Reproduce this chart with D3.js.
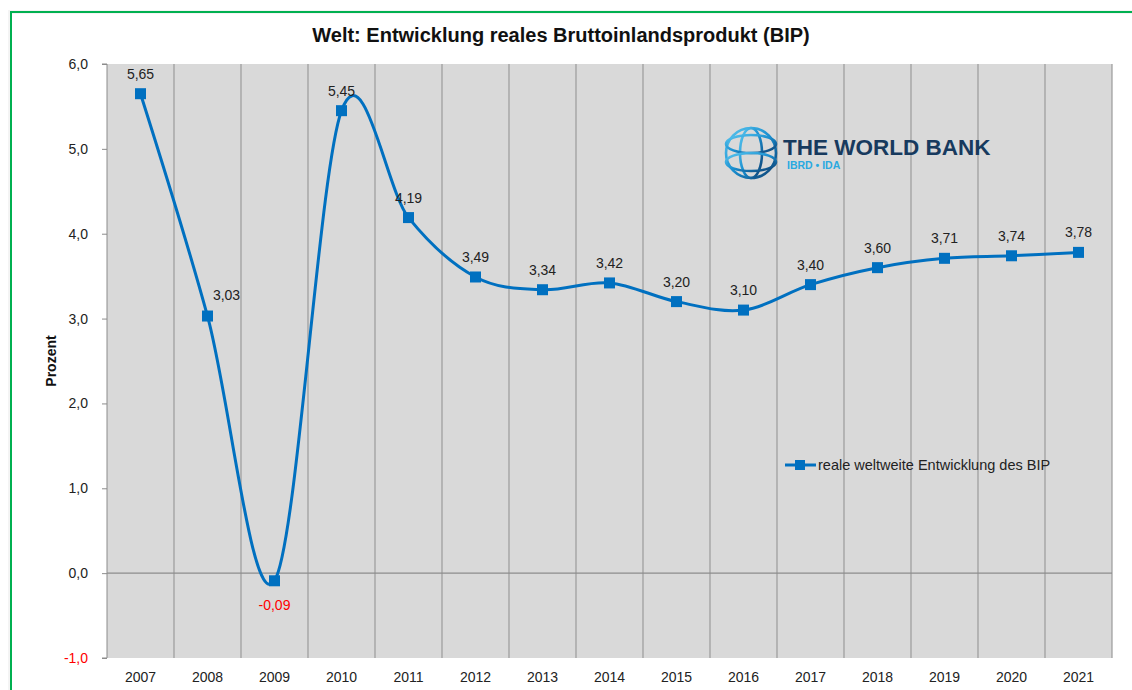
<!DOCTYPE html>
<html><head><meta charset="utf-8">
<script src="https://cdn.jsdelivr.net/npm/d3@7"></script>
<style>body{margin:0;background:#fff}svg{display:block}</style>
</head><body>
<script>
const years = ["2007","2008","2009","2010","2011","2012","2013","2014","2015","2016","2017","2018","2019","2020","2021"];
const growth = [5.65,3.03,-0.09,5.45,4.19,3.49,3.34,3.42,3.20,3.10,3.40,3.60,3.71,3.74,3.78];
const yTicks = [-1,0,1,2,3,4,5,6];
const title = "Welt: Entwicklung reales Bruttoinlandsprodukt (BIP)";
const seriesName = "reale weltweite Entwicklung des BIP";
const yLabel = "Prozent";

const W = 1132, H = 690;
const font = "'Liberation Sans', Arial, sans-serif";
const fs = 14;
const svg = d3.select("body").append("svg").attr("width", W).attr("height", H);

// green frame
svg.append("rect").attr("x",8).attr("y",10).attr("width",W).attr("height",H).attr("fill","#f4f4f4");
svg.append("rect").attr("x",12).attr("y",14).attr("width",W).attr("height",H).attr("fill","#fff");
svg.append("path").attr("d",`M11,${H} V12 H${W}`).attr("fill","none").attr("stroke","#00b050").attr("stroke-width",2);

const L = 107, R = 1112, T = 64, B = 658;
const x = d3.scaleBand().domain(years).range([L,R]);
const y = d3.scaleLinear().domain([-1,6]).range([B,T]);
const cx = d => x(d) + x.bandwidth()/2;

svg.append("rect").attr("x",L).attr("y",T).attr("width",R-L).attr("height",B-T).attr("fill","#d9d9d9");

// vertical gridlines at category boundaries
const bounds = years.map(d => x(d)).concat([R]).slice(1);
svg.append("g").selectAll("line").data(bounds).join("line")
  .attr("x1",d=>d).attr("x2",d=>d).attr("y1",T).attr("y2",B)
  .attr("stroke","#9a9a9a").attr("stroke-width",1.2);

// zero line (category axis)
svg.append("line").attr("x1",L).attr("x2",R).attr("y1",y(0)).attr("y2",y(0))
  .attr("stroke","#8c8c8c").attr("stroke-width",1.2);

// y axis
const yAxis = d3.axisLeft(y).tickValues(yTicks).tickSize(5)
  .tickFormat(d => d3.format(".1f")(d).replace(".",",").replace("−","-"));
const ga = svg.append("g").attr("transform",`translate(${L},0)`).call(yAxis);
ga.select(".domain").attr("stroke","#8c8c8c").attr("d",`M-5,${T}H0V${B}H-5`);
ga.selectAll(".tick line").attr("stroke","#8c8c8c");
ga.selectAll(".tick text").attr("font-family",font).attr("font-size",fs)
  .attr("fill",d => d<0 ? "#ff0000" : "#222").attr("x",-19);

// x labels
svg.append("g").selectAll("text").data(years).join("text")
  .attr("x",d=>cx(d)).attr("y",682).attr("text-anchor","middle")
  .attr("font-family",font).attr("font-size",fs).attr("fill","#222").text(d=>d);

// title
svg.append("text").attr("x",561).attr("y",42).attr("text-anchor","middle")
  .attr("font-family",font).attr("font-weight","bold").attr("font-size",20).attr("fill","#111").text(title);

// y label
svg.append("text").attr("transform","translate(56,361) rotate(-90)").attr("text-anchor","middle")
  .attr("font-family",font).attr("font-weight","bold").attr("font-size",14).attr("fill","#111").text(yLabel);

// logo
const lg = svg.append("g").attr("transform","translate(751,153)");
const defs = svg.append("defs");
const grad = defs.append("linearGradient").attr("id","gl").attr("x1","0").attr("y1","0").attr("x2","1").attr("y2","1");
grad.append("stop").attr("offset","0").attr("stop-color","#5cc8f0");
grad.append("stop").attr("offset","0.5").attr("stop-color","#1a8fd0");
grad.append("stop").attr("offset","1").attr("stop-color","#0d3c6e");
const gs = {fill:"none",stroke:"url(#gl)","stroke-width":2.6};
const addE = (rx,ry,cxx,cyy) => { const e = lg.append("ellipse").attr("cx",cxx||0).attr("cy",cyy||0).attr("rx",rx).attr("ry",ry); Object.entries(gs).forEach(([k,v])=>e.attr(k,v)); };
addE(25,25); addE(11,25); addE(25,9,0,-9); addE(25,9,0,9);
lg.append("line").attr("x1",0).attr("x2",0).attr("y1",-25).attr("y2",25).attr("stroke","url(#gl)").attr("stroke-width",2.6);
lg.append("line").attr("x1",-25).attr("x2",25).attr("y1",0).attr("y2",0).attr("stroke","url(#gl)").attr("stroke-width",2.6);
svg.append("text").attr("x",783).attr("y",155).attr("font-family",font).attr("font-weight","bold")
  .attr("font-size",22.5).attr("fill","#173a5e").text("THE WORLD BANK");
svg.append("text").attr("x",787).attr("y",169).attr("font-family",font).attr("font-weight","bold")
  .attr("font-size",10.5).attr("fill","#2aa9e0").text("IBRD • IDA");

// line
const pts = years.map((d,i) => [cx(d), y(growth[i])]);
svg.append("path").attr("d", d3.line().curve(d3.curveCardinal.tension(0))(pts))
  .attr("fill","none").attr("stroke","#0070c0").attr("stroke-width",3);
svg.append("g").selectAll("rect").data(pts).join("rect")
  .attr("x",d=>d[0]-5.5).attr("y",d=>d[1]-5.5).attr("width",11).attr("height",11).attr("fill","#0070c0");

// data labels
svg.append("g").selectAll("text").data(growth).join("text")
  .attr("x",(d,i)=> cx(years[i]) + (i===1 ? 19 : 0))
  .attr("y",(d,i)=> d<0 ? y(d)+29 : y(d) - (i===1 ? 16 : 15))
  .attr("text-anchor","middle").attr("font-family",font).attr("font-size",fs)
  .attr("fill",d=> d<0 ? "#ff0000" : "#222")
  .text(d => d3.format(".2f")(d).replace(".",",").replace("−","-"));

// legend
svg.append("line").attr("x1",785).attr("x2",816).attr("y1",465).attr("y2",465).attr("stroke","#0070c0").attr("stroke-width",3);
svg.append("rect").attr("x",795).attr("y",460).attr("width",10).attr("height",10).attr("fill","#0070c0");
svg.append("text").attr("x",818).attr("y",470).attr("font-family",font).attr("font-size",14.5).attr("fill","#222").text(seriesName);
</script>
</body></html>
